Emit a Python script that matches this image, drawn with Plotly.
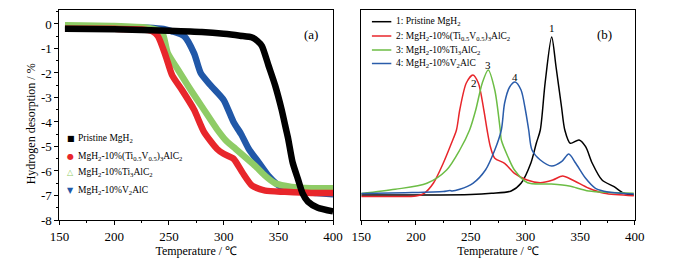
import plotly.graph_objects as go

# ---- (a) TG curves: temperature (°C) vs hydrogen desorption (wt%) ----
tg_black_T = [155, 200, 250, 280, 300, 315, 326, 331, 335, 341, 347, 353, 357, 359, 363, 368, 372, 377, 386, 400]
tg_black_W = [-0.2, -0.22, -0.28, -0.33, -0.4, -0.48, -0.55, -0.7, -0.9, -1.7, -2.5, -3.5, -4.3, -4.7, -5.65, -6.35, -6.9, -7.25, -7.5, -7.65]

tg_red_T = [155, 200, 225, 235, 240, 247, 253, 262, 273, 282, 294, 300, 309, 317, 326, 338, 356, 380, 400]
tg_red_W = [-0.2, -0.2, -0.22, -0.3, -0.5, -1.3, -2.1, -2.7, -3.5, -4.4, -5.1, -5.3, -5.5, -6.05, -6.6, -6.8, -6.85, -6.9, -6.9]

tg_green_T = [155, 200, 230, 240, 244, 249, 258, 270, 282, 294, 303, 311, 320, 329, 338, 347, 362, 380, 400]
tg_green_W = [-0.05, -0.08, -0.15, -0.25, -0.35, -1.2, -1.85, -2.7, -3.5, -4.3, -4.8, -5.1, -5.45, -5.8, -6.2, -6.5, -6.65, -6.7, -6.7]

tg_blue_T = [155, 200, 230, 245, 253, 264, 273, 279, 288, 300, 309, 316, 323, 332, 341, 349, 356, 370, 385, 400]
tg_blue_W = [-0.1, -0.12, -0.15, -0.2, -0.3, -0.5, -1.2, -2.0, -2.5, -3.1, -4.0, -4.5, -5.1, -5.65, -6.2, -6.55, -6.75, -6.85, -6.9, -6.95]

tg_ytick_vals = [0, -1, -2, -3, -4, -5, -6, -7, -8]
tg_ytick_text = ["0", "-1", "-2", "-3", "-4", "-5", "-6", "-7", "-8"]

# ---- (b) DSC curves: temperature (°C) vs heat flow (a.u.) ----
dsc_black_T = [150, 200, 250, 269, 287, 296, 305, 310, 313.6, 318, 324, 328, 333, 336, 341, 349, 355, 361, 370, 381, 390, 399]
dsc_black_H = [0, 0, 0.05, 0.17, 0.4, 1.17, 3.2, 5.2, 6.5, 11.2, 15.8, 12.8, 8.8, 6.5, 5.17, 5.5, 4.83, 3.2, 1.5, 0.83, 0.17, 0]

dsc_red_T = [150, 180, 200, 207.5, 216, 225, 232.5, 237, 240, 246, 252, 257, 262, 265, 268, 272, 281, 290, 301.5, 313.6, 325, 334, 343, 358, 372, 399]
dsc_red_H = [-0.15, -0.15, -0.1, 0.17, 1.2, 3.2, 5.2, 6.5, 8.5, 11.2, 12.0, 11.2, 8.5, 6.5, 4.83, 3.67, 3.17, 2.17, 1.5, 1.23, 1.5, 1.9, 1.5, 0.67, 0.17, -0.07]

dsc_green_T = [150, 181, 210, 228, 240, 249, 254.6, 260.6, 266, 272, 277, 278, 284, 290, 302, 322.5, 340, 358, 399]
dsc_green_H = [0.15, 0.57, 1.17, 2.5, 4.5, 6.5, 8.5, 11.2, 12.5, 10.5, 6.5, 5.5, 3.83, 2.5, 1.23, 1.1, 0.9, 0.4, 0.17]

dsc_blue_T = [150, 190, 225, 231, 233, 240, 252, 263.5, 272, 278, 281, 285.6, 290.6, 296, 300, 303, 306, 313.6, 324, 333, 339.6, 346, 355, 364, 375.6, 399]
dsc_blue_H = [0.15, 0.23, 0.35, 0.45, 0.4, 0.57, 1.17, 2.5, 4.5, 6.5, 9.2, 10.8, 11.3, 10.5, 8.5, 6.5, 4.5, 3.5, 2.9, 3.33, 4.1, 3.17, 1.67, 0.67, 0.3, 0.1]

peak_labels = ["1", "2", "3", "4"]
peak_T = [324, 252.6, 266, 290.6]
peak_H = [16.7, 11.2, 13.0, 11.8]

names_a = ["Pristine MgH<sub>2</sub>",
           "MgH<sub>2</sub>-10%(Ti<sub>0.5</sub>V<sub>0.5</sub>)<sub>3</sub>AlC<sub>2</sub>",
           "MgH<sub>2</sub>-10%Ti<sub>3</sub>AlC<sub>2</sub>",
           "MgH<sub>2</sub>-10%V<sub>2</sub>AlC"]
names_b = ["1: Pristine MgH<sub>2</sub>",
           "2: MgH<sub>2</sub>-10%(Ti<sub>0.5</sub>V<sub>0.5</sub>)<sub>3</sub>AlC<sub>2</sub>",
           "3: MgH<sub>2</sub>-10%Ti<sub>3</sub>AlC<sub>2</sub>",
           "4: MgH<sub>2</sub>-10%V<sub>2</sub>AlC"]

SERIF = "Liberation Serif"
col_a = ["#000000", "#e8262b", "#8fcc66", "#2158a8"]
col_b = ["#000000", "#e8262b", "#6cbd45", "#2a5caa"]
marker_glyphs = ["■", "●", "△", "▼"]

W_PX, PLOT_TOP, PLOT_BOT = 673, 10, 220


def px_x(px):
    return px / W_PX


def px_y(py):
    return (PLOT_BOT - py) / (PLOT_BOT - PLOT_TOP)


fig = go.Figure()

tg = [(tg_black_T, tg_black_W), (tg_red_T, tg_red_W), (tg_green_T, tg_green_W), (tg_blue_T, tg_blue_W)]
for i in [3, 2, 1, 0]:
    T, W = tg[i]
    fig.add_trace(go.Scatter(x=T, y=W, mode="lines", name=names_a[i],
                             line=dict(color=col_a[i], width=6.5, shape="spline", smoothing=0.6),
                             showlegend=False, xaxis="x", yaxis="y"))

dsc = [(dsc_black_T, dsc_black_H), (dsc_red_T, dsc_red_H), (dsc_green_T, dsc_green_H), (dsc_blue_T, dsc_blue_H)]
for i in range(4):
    T, H = dsc[i]
    fig.add_trace(go.Scatter(x=T, y=H, mode="lines", name=names_b[i],
                             line=dict(color=col_b[i], width=1.5, shape="spline", smoothing=0.8),
                             showlegend=False, xaxis="x2", yaxis="y2"))

# compact legend for panel (a): marker glyph + label
legend_a_y = [138, 156, 172, 190]
for i in range(4):
    fig.add_annotation(x=px_x(62.5), y=px_y(legend_a_y[i]), xref="paper", yref="paper",
                       text=marker_glyphs[i], showarrow=False, xanchor="center", yanchor="middle",
                       font=dict(family="DejaVu Sans", size=8, color=col_a[i]))
    fig.add_annotation(x=px_x(68), y=px_y(legend_a_y[i]), xref="paper", yref="paper",
                       text=names_a[i], showarrow=False, xanchor="left", yanchor="middle",
                       font=dict(family=SERIF, size=9.5, color="black"))

# compact legend for panel (b): line swatch + label
legend_b_y = [21.7, 36, 50, 63.5]
for i in range(4):
    fig.add_shape(type="line", xref="paper", yref="paper",
                  x0=px_x(373), x1=px_x(393), y0=px_y(legend_b_y[i]), y1=px_y(legend_b_y[i]),
                  line=dict(color=col_b[i], width=1.5))
    fig.add_annotation(x=px_x(396), y=px_y(legend_b_y[i]), xref="paper", yref="paper",
                       text=names_b[i], showarrow=False, xanchor="left", yanchor="middle",
                       font=dict(family=SERIF, size=9.5, color="black"))

for lab, t, h in zip(peak_labels, peak_T, peak_H):
    fig.add_annotation(x=t, y=h, text=lab, xref="x2", yref="y2", showarrow=False,
                       font=dict(family=SERIF, size=11, color="black"))

fig.add_annotation(x=px_x(310), y=px_y(25), xref="paper", yref="paper", text="(a)",
                   showarrow=False, font=dict(family=SERIF, size=13, color="black"))
fig.add_annotation(x=px_x(623), y=px_y(25), xref="paper", yref="paper", text="(b)",
                   showarrow=False, font=dict(family=SERIF, size=13, color="black"))

# y-axis title of panel (a), placed like the reference (slightly below centre)
fig.add_annotation(x=px_x(22), y=px_y(124), xref="paper", yref="paper", text="Hydrogen desorption / %",
                   textangle=-90, showarrow=False, xanchor="center", yanchor="middle",
                   font=dict(family=SERIF, size=12, color="black"))

axis_common = dict(showline=True, linecolor="black", linewidth=1.3, mirror=True,
                   ticks="outside", ticklen=4, tickcolor="black", tickwidth=1,
                   showgrid=False, zeroline=False,
                   tickfont=dict(family=SERIF, size=13, color="black"))
title_font = dict(family=SERIF, size=12, color="black")

fig.update_layout(
    width=673, height=258,
    margin=dict(l=0, r=0, t=10, b=38),
    paper_bgcolor="white", plot_bgcolor="white",
    showlegend=False,
    xaxis=dict(domain=[px_x(51), px_x(333)], range=[150, 400], dtick=50,
               minor=dict(ticks="outside", ticklen=2, dtick=25, tickcolor="black"),
               title=dict(text="Temperature / ℃", font=title_font, standoff=2),
               **axis_common),
    yaxis=dict(domain=[0, 1], range=[-8, 0.57], anchor="x",
               tickvals=tg_ytick_vals, ticktext=tg_ytick_text,
               minor=dict(ticks="outside", ticklen=2, dtick=0.5, tickcolor="black"),
               **axis_common),
    xaxis2=dict(domain=[px_x(362), px_x(644)], range=[150, 400], dtick=50, anchor="y2",
                minor=dict(ticks="outside", ticklen=2, dtick=25, tickcolor="black"),
                title=dict(text="Temperature / ℃", font=title_font, standoff=2),
                **axis_common),
    yaxis2=dict(domain=[0, 1], range=[-2.5, 18.5], anchor="x2", showline=True, linecolor="black",
                linewidth=1.3, mirror=True, ticks="", showticklabels=False, showgrid=False, zeroline=False),
)

fig.write_html("out.html", post_script="document.body.style.margin='0px';",
               config={"displayModeBar": False})
